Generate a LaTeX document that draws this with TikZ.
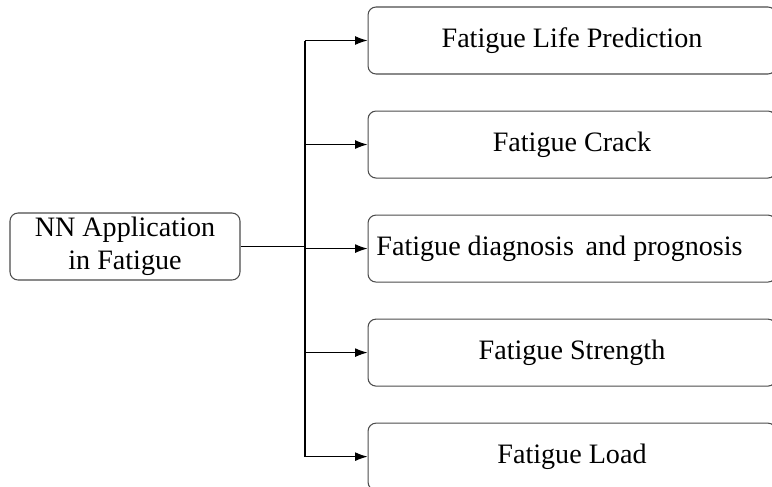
\documentclass[tikz,border=0pt]{standalone}
\usepackage{fontspec}
\setmainfont{Liberation Serif}
\usepackage{tikz}
\usetikzlibrary{arrows.meta, positioning}

\begin{document}
\begin{tikzpicture}[x=0.02cm, y=-0.02cm, font=\fontsize{16}{18.5}\selectfont,
        node distance=0.72cm,
        topic/.style={draw=black!70, rounded corners=0.16cm, line width=0.6pt,
                      minimum width=4.6cm, minimum height=1.34cm,
                      align=center, inner sep=2pt},
        area/.style={draw=black!70, rounded corners=0.16cm, line width=0.6pt,
                     minimum width=8.16cm, minimum height=1.34cm,
                     align=center, inner sep=2pt},
        link/.style={line width=0.6pt, -{Latex[length=7pt, width=5pt]}}]
      \useasboundingbox (0,0) rectangle (772,487);
      % root and the five areas
      \node[topic] (nn) at (125,246.5) {NN Application\\in Fatigue};
      \node[area] (life) at (572,40.5) {Fatigue Life Prediction};
      \node[area, below=of life] (crack) {Fatigue Crack};
      \node[area, below=of crack] (diag) {\hspace*{-0.5cm}Fatigue diagnosis\, and prognosis};
      \node[area, below=of diag] (strength) {Fatigue Strength};
      \node[area, below=of strength] (load) {Fatigue Load};
      % trunk line
      \coordinate (trunk) at (305,0);
      \draw[line width=0.6pt] (nn.east) -- (nn.east -| trunk);
      \draw[line width=0.6pt] (life.west -| trunk) -- (load.west -| trunk);
      \foreach \n in {life, crack, diag, strength, load}
        \draw[link] (\n.west -| trunk) -- (\n.west);
    \end{tikzpicture}
\end{document}
